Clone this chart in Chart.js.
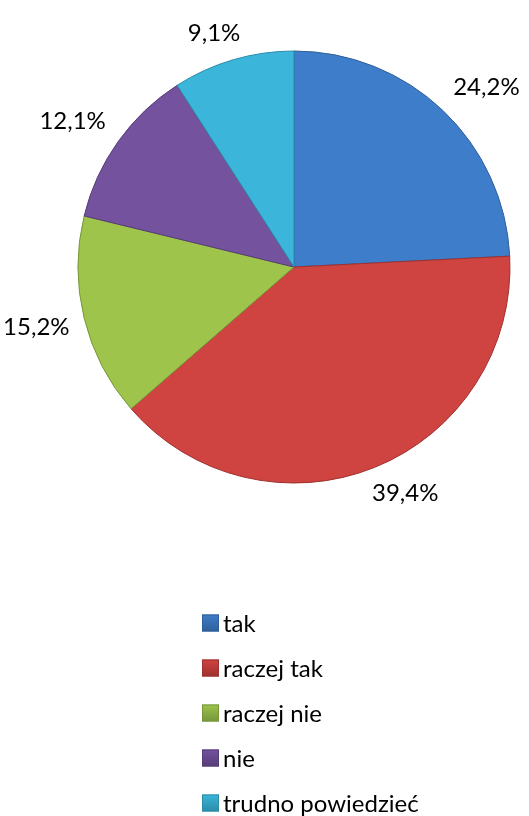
<!DOCTYPE html>
<html>
<head>
<meta charset="utf-8">
<script src="https://cdn.jsdelivr.net/npm/chart.js@4"></script>
<style>
  html, body { margin: 0; padding: 0; background: #fff; }
  #wrap { width: 529px; height: 816px; }
</style>
</head>
<body>
<div id="wrap"><canvas id="pieChart" width="529" height="816"></canvas></div>
<script>
const categories = ["tak", "raczej tak", "raczej nie", "nie", "trudno powiedzieć"];
const shares = [24.2, 39.4, 15.2, 12.1, 9.1];
const shareLabels = ["24,2%", "39,4%", "15,2%", "12,1%", "9,1%"];

const baseColors = ["#3e7dc9", "#cf4340", "#9ec44b", "#74529e", "#3bb6da"];
const darkColors = ["#2f5f9a", "#9e302e", "#76963a", "#563c78", "#2b8ba8"];

// radial gradient: flat body, darker rim for the bevel look
function sliceFill(ctx) {
    const chart = ctx.chart;
    const arc = chart.getDatasetMeta(0).data[ctx.dataIndex];
    if (!arc || !arc.outerRadius) return baseColors[ctx.dataIndex];
    const g = chart.ctx.createRadialGradient(arc.x, arc.y, 0, arc.x, arc.y, arc.outerRadius);
    g.addColorStop(0, baseColors[ctx.dataIndex]);
    g.addColorStop(0.93, baseColors[ctx.dataIndex]);
    g.addColorStop(1, darkColors[ctx.dataIndex]);
    return g;
}

// percentage labels outside the slices
const outsideLabels = {
    id: "outsideLabels",
    afterDatasetsDraw(chart) {
        const ctx = chart.ctx;
        const meta = chart.getDatasetMeta(0);
        ctx.save();
        ctx.font = "24px Lato";
        ctx.fillStyle = "#000";
        ctx.textAlign = "center";
        ctx.textBaseline = "middle";
        meta.data.forEach((arc, i) => {
            const mid = (arc.startAngle + arc.endAngle) / 2;
            const r = arc.outerRadius + 15;
            const px = arc.x + Math.cos(mid) * r;
            const py = arc.y + Math.sin(mid) * r;
            const w = ctx.measureText(shareLabels[i]).width;
            const h = 24;
            const kx = Math.max(-1, Math.min(1, Math.cos(mid) * 2));
            const ky = Math.max(-1, Math.min(1, Math.sin(mid) * 2));
            ctx.fillText(shareLabels[i], px + kx * w / 2, py + ky * h / 2);
        });
        ctx.restore();
    }
};

// vertical legend under the pie
const columnLegend = {
    id: "columnLegend",
    afterDraw(chart) {
        const ctx = chart.ctx;
        const x = 202, y0 = 623, step = 45, box = 17;
        ctx.save();
        ctx.font = "24px Lato";
        ctx.textBaseline = "middle";
        chart.data.labels.forEach((label, i) => {
            const y = y0 + i * step;
            const g = ctx.createLinearGradient(0, y - box / 2, 0, y + box / 2);
            g.addColorStop(0, baseColors[i]);
            g.addColorStop(1, darkColors[i]);
            ctx.fillStyle = g;
            ctx.fillRect(x, y - box / 2, box, box);
            ctx.strokeStyle = darkColors[i];
            ctx.lineWidth = 1;
            ctx.strokeRect(x + 0.5, y - box / 2 + 0.5, box - 1, box - 1);
            ctx.fillStyle = "#000";
            ctx.fillText(label, x + box + 4, y + 1);
        });
        ctx.restore();
    }
};

new Chart(document.getElementById("pieChart"), {
    type: "pie",
    data: {
        labels: categories,
        datasets: [{
            data: shares,
            backgroundColor: sliceFill,
            borderColor: darkColors,
            borderWidth: 1
        }]
    },
    options: {
        responsive: false,
        animation: false,
        radius: 216,
        layout: { padding: { left: 78, right: 19, top: 51, bottom: 333 } },
        plugins: {
            legend: { display: false },
            tooltip: { enabled: false }
        }
    },
    plugins: [outsideLabels, columnLegend]
});
</script>
</body>
</html>
